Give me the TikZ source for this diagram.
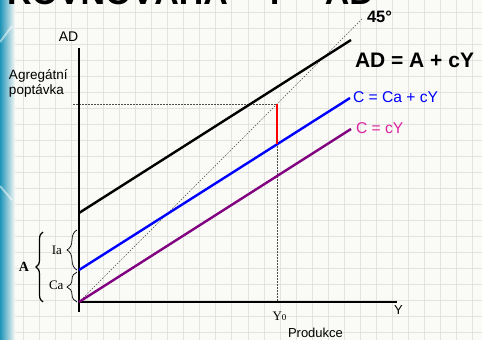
\documentclass[tikz,border=0pt]{standalone}
\usepackage{fontspec}
\setmainfont{Liberation Sans}
\newfontfamily\serifschrift{Liberation Serif}
\usepackage{tikz}
\definecolor{papier}{RGB}{250,250,246}
\definecolor{raster}{RGB}{226,227,223}
\definecolor{tuerkis}{RGB}{30,148,184}
\definecolor{lila}{RGB}{128,0,128}
\definecolor{rosa}{RGB}{222,32,160}
\usetikzlibrary{decorations.pathreplacing, positioning}
\newcommand{\schrift}[1]{\fontsize{#1}{#1}\selectfont}

\begin{document}
\begin{tikzpicture}[x=1pt, y=-1pt,
			>=latex,   %Pfeilspitzen
			kurve/.style={line width=2.4pt},
			achse/.style={line width=1.4pt, black},
			hilfslinie/.style={gray!60!black, line width=0.5pt, dash pattern=on 1.5pt off 1.5pt},
			klammer/.style={decorate, decoration={brace, amplitude=#1}, line width=0.7pt},
			beschr/.style={inner sep=0pt, outer sep=0pt}]
			%Bildbereich
			\useasboundingbox (0,0) rectangle (482,340);
			\clip (0,0) rectangle (482,340);
			\fill[papier] (0,0) rectangle (482,340);
			%Raster zeichnen
			\foreach \i in {0,...,29} \draw[raster, line width=0.8pt] ({7+16.06*\i},0) -- ({7+16.06*\i},340);
			\foreach \y in {12,28,...,332} \draw[raster, line width=0.8pt] (0,\y) -- (482,\y);
			% Rand links
			\shade[left color=tuerkis, right color=papier] (0,0) rectangle (15,340);
			\draw[white, opacity=0.5, line width=2pt] (0,42) -- (12,26);
			\draw[white, opacity=0.5, line width=2pt] (0,186) -- (12,200);
			% Titel (abgeschnitten)
			\node[beschr, anchor=base west, font=\bfseries\schrift{34}] (titel) at (7,5) {ROVNOVÁHA};
			\node[beschr, anchor=base east, font=\bfseries\schrift{34}] (titelgl) at (374,5) {Y = AD};
			% Punkte
			\coordinate (O) at (79,302);
			\coordinate (yoben) at (79,48);
			\coordinate (yunten) at (79,312);
			\coordinate (xrechts) at (397,302);
			\coordinate (cende) at (351,129);
			\coordinate (castart) at (79,270);
			\coordinate (caende) at (350,98);
			\coordinate (adstart) at (79,213);
			\coordinate (adende) at (351,40);
			\coordinate (achtende) at (362,19);
			\coordinate (E) at (277,104);
			\coordinate (Eb) at (277,144);
			\coordinate (Ex) at (277,302);
			\coordinate (Ey) at (73,104);
			%Hilfslinien
			\draw[hilfslinie] (O) -- (achtende);
			\draw[hilfslinie] (Ey) -- (E);
			\draw[hilfslinie] (E) -- (Ex);
			% Achsen zeichnen
			\draw[achse] (yunten) -- (yoben);
			\draw[achse] (O) -- (xrechts);
			%Funktionen zeichnen:
			\draw[kurve, lila] (O) -- (cende);
			\draw[kurve, blue] (castart) -- (caende);
			\draw[kurve, black] (adstart) -- (adende);
			\draw[kurve, red] (E) -- (Eb);
			% Klammern
			\draw[klammer=10] (77,270) -- (77,230);
			\draw[klammer=10] (77,302) -- (77,272);
			\draw[klammer=7, line width=1.2pt] (43,302) -- (43,232);
			%Beschriftung
			\node[beschr, font=\schrift{14}] (ad) at (68.5,37) {AD};
			\node[beschr, anchor=base west, font=\schrift{13.5}] (agr) at (9,79) {Agregátní};
			\node[beschr, anchor=base west, font=\schrift{13.5}] (popt) at (9,94) {poptávka};
			\node[beschr, anchor=base west, font=\bfseries\schrift{16.5}] (winkel) at (367,22) {45°};
			\node[beschr, anchor=base west, font=\bfseries\schrift{21}] (adgl) at (355,67) {AD = A + cY};
			\node[beschr, anchor=base west, font=\schrift{15.6}, blue] (cagl) at (353,102) {C = Ca + cY};
			\node[beschr, anchor=base west, font=\schrift{15.6}, rosa] (cgl) at (356,133) {C = cY};
			\node[beschr, anchor=base west, font=\schrift{13}] (ylab) at (394,314) {Y};
			\node[beschr, anchor=base west, font=\schrift{13}] (prod) at (288,337.5) {Produkce};
			\node[beschr, anchor=base west, font=\serifschrift\schrift{13}] (ynull) at (272.5,320) {Y{\schrift{9}0}};
			\node[beschr, anchor=base east, font=\serifschrift\schrift{13}] (ia) at (62,254) {Ia};
			\node[beschr, anchor=base east, font=\serifschrift\schrift{13}] (ca) at (63.5,289) {Ca};
			\node[beschr, anchor=base west, font=\serifschrift\bfseries\schrift{14}] (a) at (19,271) {A};
		\end{tikzpicture}
\end{document}
